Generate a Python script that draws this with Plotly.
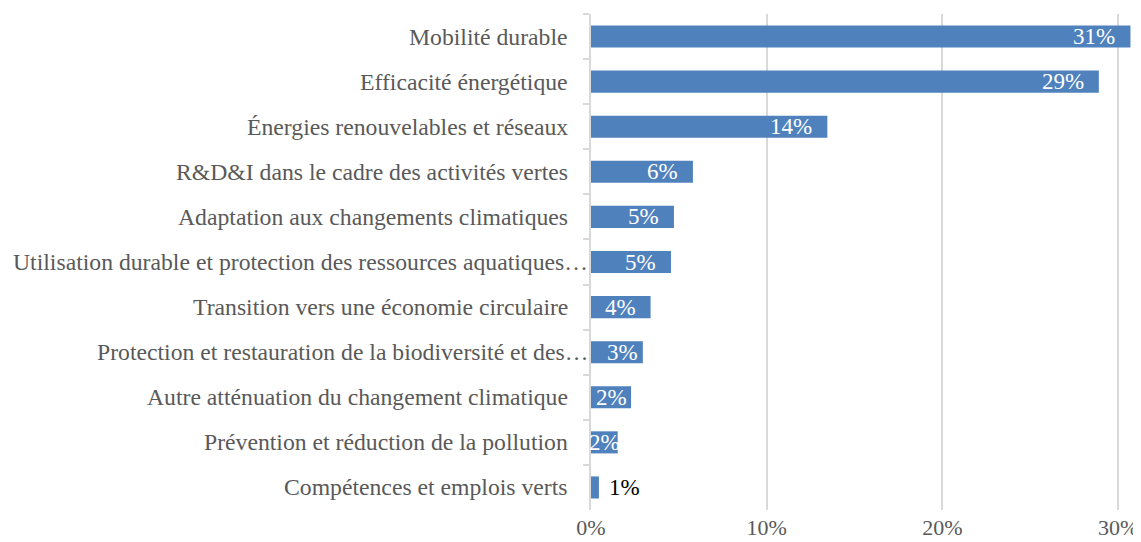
import plotly.graph_objects as go

categories = [
    "Mobilité durable",
    "Efficacité énergétique",
    "Énergies renouvelables et réseaux",
    "R&D&I dans le cadre des activités vertes",
    "Adaptation aux changements climatiques",
    "Utilisation durable et protection des ressources aquatiques…",
    "Transition vers une économie circulaire",
    "Protection et restauration de la biodiversité et des…",
    "Autre atténuation du changement climatique",
    "Prévention et réduction de la pollution",
    "Compétences et emplois verts",
]
values = [30.7, 28.9, 13.45, 5.8, 4.72, 4.55, 3.39, 2.95, 2.28, 1.52, 0.45]
labels = ["31%", "29%", "14%", "6%", "5%", "5%", "4%", "3%", "2%", "2%", "1%"]
x_ticks = [0, 10, 20, 30]
x_tick_labels = ["0%", "10%", "20%", "30%"]

BAR_COLOR = "#4f81bd"
GRID = "#d9d9d9"
TEXT = "#595959"
FONT = "Liberation Serif, Times New Roman, serif"

fig = go.Figure(go.Bar(
    x=values, y=categories, orientation="h",
    marker=dict(color=BAR_COLOR, line=dict(width=0)),
    hoverinfo="skip",
))

# category names: truncated ones ("…") run up to the axis like in the source
for cat in categories:
    fig.add_annotation(
        x=0, y=cat, text=cat, showarrow=False,
        xanchor="right", yanchor="middle",
        xshift=-1 if cat.endswith("…") else -21,
        font=dict(family=FONT, size=23.7, color=TEXT),
    )

# data labels, placed the way the spreadsheet did it
for cat, v, lab in zip(categories, values, labels):
    if v < 1:
        ann = dict(x=v, xanchor="left", xshift=8, font_color="#000000")
    elif v < 2.5:
        ann = dict(x=v / 2, xanchor="center", xshift=0, font_color="#ffffff")
    elif v < 3.2:
        ann = dict(x=0, xanchor="left", xshift=14, font_color="#ffffff")
    else:
        ann = dict(x=v, xanchor="right", xshift=-13, font_color="#ffffff")
    fig.add_annotation(
        y=cat, text=lab, showarrow=False, yanchor="middle",
        font=dict(family=FONT, size=23, color=ann.pop("font_color")), **ann,
    )

# page body has an 8px margin, so the figure is 8px smaller than the window
fig.update_layout(
    width=1133, height=534,
    margin=dict(l=583, r=0, t=6, b=32),
    paper_bgcolor="white", plot_bgcolor="white",
    bargap=0.51,
    showlegend=False,
    font=dict(family=FONT, size=22, color=TEXT),
    xaxis=dict(
        range=[0, 31.3], automargin=False,
        tickvals=x_ticks, ticktext=x_tick_labels,
        showgrid=True, gridcolor=GRID, gridwidth=2,
        zeroline=False, showline=False, ticks="",
        ticklabelstandoff=2,
        tickfont=dict(family=FONT, size=22, color=TEXT),
    ),
    yaxis=dict(
        autorange="reversed", automargin=False,
        showline=True, linecolor=GRID, linewidth=2,
        ticks="outside", tickson="boundaries", ticklen=6, tickcolor=GRID, tickwidth=2,
        showticklabels=False,
        showgrid=False,
    ),
)

fig.write_html("out.html")
